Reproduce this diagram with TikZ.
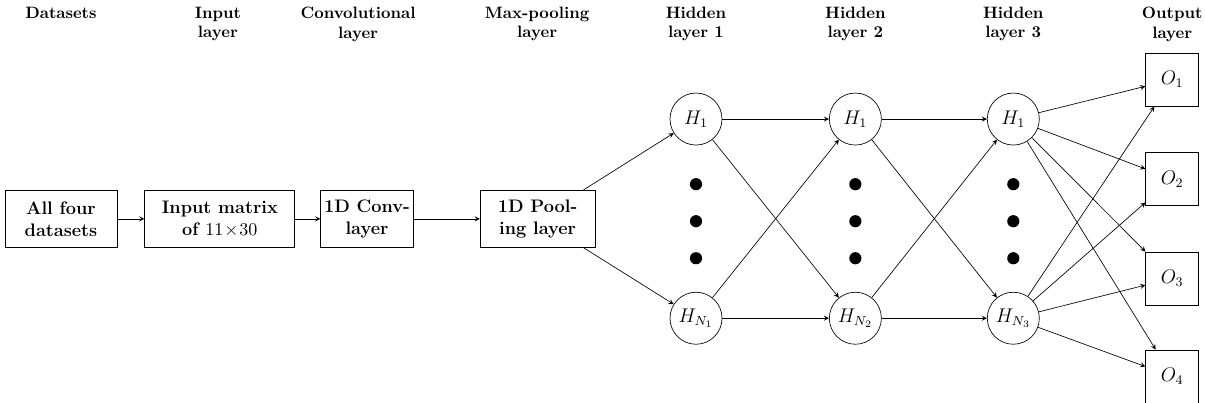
\documentclass[tikz,border=0pt]{standalone}
\usepackage{amsmath,amssymb}
\usepackage{tikz}
\usetikzlibrary{arrows}
\usetikzlibrary{positioning}

\tikzset{
  block/.style={draw, align=center, font=\bfseries\fontsize{11}{13.5}\selectfont,
    minimum height=1.22cm, inner xsep=2pt},
  neuron/.style={draw, circle, minimum size=1.11cm, inner sep=0pt, font=\large},
  outbox/.style={draw, minimum size=1.13cm, font=\large},
  dotnode/.style={circle, fill, minimum size=0.26cm, inner sep=0pt},
  head/.style={align=center, font=\bfseries, anchor=north}
}

\begin{document}
\begin{tikzpicture}
  \useasboundingbox (0,0) rectangle (25.71,-8.58);
  % column titles
  \node[head] (t1) at (1.30,-0.02) {Datasets};
  \node[head] (t2) at (4.65,-0.02) {Input\\layer};
  \node[head] (t3) at (7.64,-0.02) {Convolutional\\layer};
  \node[head] (t4) at (11.46,-0.02) {Max-pooling\\layer};
  \node[head] (t5) at (14.85,-0.02) {Hidden\\layer 1};
  \node[head] (t6) at (18.25,-0.02) {Hidden\\layer 2};
  \node[head] (t7) at (21.62,-0.02) {Hidden\\layer 3};
  \node[head] (t8) at (25.01,-0.02) {Output\\layer};
  % blocks
  \node[block, minimum width=2.39cm] (data) at (1.30,-4.67) {All four\\datasets};
  \node[block, minimum width=3.20cm] (inp) at (4.69,-4.67) {Input matrix\\of $11\!\times\!30$};
  \node[block, minimum width=1.92cm] (conv) at (7.83,-4.67) {1D Conv-\\layer};
  \node[block, minimum width=2.45cm] (pool) at (11.47,-4.67) {1D Pool-\\ing layer};
  % hidden layers
  \node[neuron] (h11) at (14.85,-2.54) {$H_1$};
  \node[neuron] (h1n) at (14.85,-6.79) {$H_{N_1}$};
  \node[neuron] (h21) at (18.25,-2.54) {$H_1$};
  \node[neuron] (h2n) at (18.25,-6.79) {$H_{N_2}$};
  \node[neuron] (h31) at (21.62,-2.54) {$H_1$};
  \node[neuron] (h3n) at (21.62,-6.79) {$H_{N_3}$};
  \foreach \x/\l in {14.85/a,18.25/b,21.62/c}
    \foreach \y/\k in {-3.93/1,-4.72/2,-5.51/3}
      \node[dotnode] (dot\l\k) at (\x,\y) {};
  % outputs
  \node[outbox] (o1) at (25.01,-1.70) {$O_1$};
  \node[outbox] (o2) at (25.01,-3.82) {$O_2$};
  \node[outbox] (o3) at (25.01,-5.94) {$O_3$};
  \node[outbox] (o4) at (25.01,-8.03) {$O_4$};

  \path[-stealth]
    (data) edge (inp)
    (inp) edge (conv)
    (conv) edge (pool)
    (pool) edge (h11)
    (pool) edge (h1n)
    (h11) edge (h21)
    (h11) edge (h2n)
    (h1n) edge (h21)
    (h1n) edge (h2n)
    (h21) edge (h31)
    (h21) edge (h3n)
    (h2n) edge (h31)
    (h2n) edge (h3n);
  \foreach \i in {1,...,4}
    \path[-stealth] (h31) edge (o\i) (h3n) edge (o\i);
\end{tikzpicture}
\end{document}
